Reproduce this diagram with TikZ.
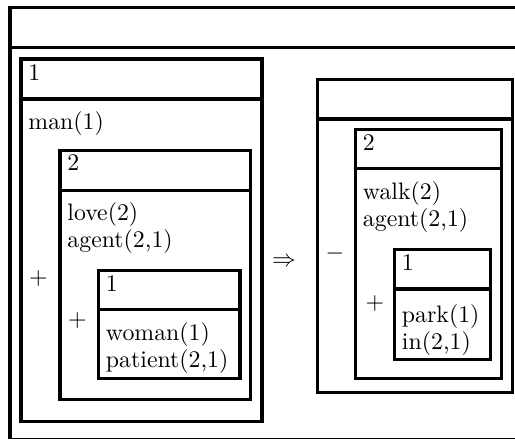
\documentclass[tikz,border=0pt]{standalone}
\tikzset{
  drsline/.style={line width=1.3pt},
  cond/.style={anchor=base west, inner sep=0pt},
  op/.style={inner sep=0pt}
}
% box with a header line: left, top, right, header, bottom
\newcommand{\drsbox}[5]{%
  \draw[drsline] (#1,#2) rectangle (#3,#5);
  \draw[drsline] (#1,#4) -- (#3,#4);}

\begin{document}
\begin{tikzpicture}[x=0.42pt,y=-0.42pt]
   \useasboundingbox (0,0) rectangle (515,441);
   % outer frame
   \draw[drsline] (515,7.5) -- (10,7.5) -- (10,438.5);
   \draw[drsline] (10,47.5) -- (515,47.5);
   \draw[line width=0.7pt] (10,438.5) -- (515,438.5);

   % left side
   \drsbox{21}{59}{262}{99}{421.5}
   \node[cond] (ref1) at (28,80) {1};
   \node[cond] (man) at (28,129) {man(1)};
   \node[op] (plusA) at (38.5,279) {$+$};
   \drsbox{60}{150.5}{250.5}{190.5}{399.5}
   \node[cond] (ref2) at (67,170) {2};
   \node[cond] (love) at (67,220) {love(2)};
   \node[cond] (agentL) at (67,247) {agent(2,1)};
   \node[op] (plusB) at (77.5,321) {$+$};
   \drsbox{98.5}{270.5}{240}{309.5}{378.5}
   \node[cond] (ref3) at (105.5,291) {1};
   \node[cond] (woman) at (105.5,340) {woman(1)};
   \node[cond] (patient) at (105.5,367) {patient(2,1)};

   \node[op] (imp) at (284,262) {$\Rightarrow$};

   % right side
   \drsbox{317.5}{79.5}{512.5}{119}{392.5}
   \node[op] (minus) at (335,254) {$-$};
   \drsbox{355.5}{129.5}{501.5}{168.5}{378.5}
   \node[cond] (ref4) at (362.5,150) {2};
   \node[cond] (walk) at (362.5,199) {walk(2)};
   \node[cond] (agentR) at (362.5,226) {agent(2,1)};
   \node[op] (plusC) at (375,303.5) {$+$};
   \drsbox{394.5}{249.5}{490.5}{289}{359.5}
   \node[cond] (ref5) at (401.5,270) {1};
   \node[cond] (park) at (401.5,322) {park(1)};
   \node[cond] (in) at (401.5,349) {in(2,1)};
\end{tikzpicture}
\end{document}
